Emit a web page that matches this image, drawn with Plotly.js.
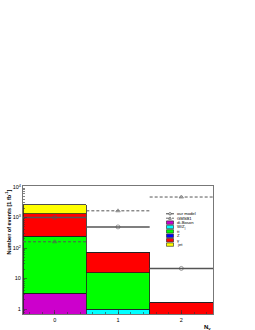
<!DOCTYPE html>
<html><head><meta charset="utf-8">
<script src="https://cdn.plot.ly/plotly-3.0.1.min.js"></script>
<style>html,body{margin:0;padding:0;background:#fff}#c{width:255px;height:330px}</style>
</head><body><div id="c"></div>
<script>
const bins = [0, 1, 2];
const tickLabels = ["0", "1", "2"];
const ourModel = [1000, 490, 21.5];
const gmsb1 = [160, 1650, 4670];
const diBoson = [3.3, 0, 0];
const wzj = [0, 1.0, 0];
const ttbar = [242, 14.3, 0];
const zjets = [2, 0, 0];
const gamma = [1100, 56, 1.6];
const jet = [1280, 0, 0];
const yTickVals = [1, 10, 100, 1000, 10000];
const yTickText = ["1", "10", "10<sup>2</sup>", "10<sup>3</sup>", "10<sup>4</sup>"];
const barNames = ["di-Boson", "W/Z<sub>j</sub>", "tt", "Z", "γ", "jet"];
const barColors = ["#cc00cc", "#00ffff", "#00ff00", "#0000ff", "#ff0000", "#ffff00"];
const barSeries = [diBoson, wzj, ttbar, zjets, gamma, jet];

function steps(vals) {
  const x = [], y = [], s = [];
  bins.forEach((b, i) => {
    x.push(b - 0.5, b, b + 0.5, null);
    y.push(vals[i], vals[i], vals[i], null);
    s.push(0, 4, 0, 0);
  });
  return {x, y, s};
}
const om = steps(ourModel), gm = steps(gmsb1);
const font = "Liberation Sans, Arial, sans-serif";
const data = [];
barSeries.forEach((v, i) => data.push({type: "bar", name: barNames[i], x: bins, y: v, width: 1,
  marker: {color: barColors[i], line: {color: "#222", width: 0.8}}}));
data.push({type: "scatter", mode: "lines+markers", name: "our model", x: om.x, y: om.y,
   line: {color: "#555", width: 1.5}, connectgaps: false,
   marker: {symbol: "circle-open", size: om.s, color: "#555", line: {width: 0.8}}});
data.push({type: "scatter", mode: "lines+markers", name: "GMSB1", x: gm.x, y: gm.y,
   line: {color: "#555", width: 1, dash: "3px,2px"}, connectgaps: false,
   marker: {symbol: "triangle-up-open", size: gm.s, color: "#555", line: {width: 0.8}}});

// manual legend (paper coordinates of the plot area)
const L = 23, R = 213, B = 314, T = 186;
const px = v => (v - L) / (R - L), py = v => (B - v) / (B - T);
const legNames = ["our model", "GMSB1"].concat(barNames);
const legY0 = 213.8, legDy = 4.4;
const shapes = [], annotations = [];
legNames.forEach((n, i) => {
  const y = legY0 + i * legDy;
  annotations.push({text: n, xref: "paper", yref: "paper", x: px(174.5), y: py(y),
    xanchor: "left", yanchor: "middle", showarrow: false, font: {size: 4.2, family: font}});
  if (i === 0) {
    shapes.push({type: "line", xref: "paper", yref: "paper", x0: px(166), x1: px(174), y0: py(y), y1: py(y), line: {color: "#444", width: 1}});
    shapes.push({type: "circle", xref: "paper", yref: "paper", x0: px(168.8), x1: px(171.2), y0: py(y - 1.2), y1: py(y + 1.2), fillcolor: "#fff", line: {color: "#444", width: 0.7}});
  } else if (i === 1) {
    shapes.push({type: "line", xref: "paper", yref: "paper", x0: px(166), x1: px(174), y0: py(y), y1: py(y), line: {color: "#444", width: 0.8, dash: "dot"}});
    shapes.push({type: "path", xref: "paper", yref: "paper",
      path: `M ${px(168.7)} ${py(y + 1.1)} L ${px(171.3)} ${py(y + 1.1)} L ${px(170)} ${py(y - 1.3)} Z`,
      fillcolor: "#fff", line: {color: "#444", width: 0.7}});
  } else {
    shapes.push({type: "rect", xref: "paper", yref: "paper", x0: px(166.5), x1: px(173.5), y0: py(y + 1.7), y1: py(y - 1.7),
      fillcolor: barColors[i - 2], line: {color: "#222", width: 0.6}});
  }
});
annotations.push({text: "<b>N<sub>γ</sub></b>", xref: "paper", yref: "paper", x: 1.0, y: -0.06,
    xanchor: "right", yanchor: "top", showarrow: false, font: {size: 6, family: font}});
annotations.push({text: "<b>Number of events [1 fb<sup>-1</sup>]</b>", xref: "paper", yref: "paper",
    x: px(8), y: py(188), xanchor: "center", yanchor: "top", textangle: -90, showarrow: false,
    font: {size: 5.5, family: font}});

const minorY = [];
for (let e = -1; e < 4; e++) for (let m = 2; m <= 9; m++) minorY.push(m * Math.pow(10, e));

const layout = {
  width: 255, height: 330,
  margin: {l: 23, r: 42, t: 186, b: 16},
  paper_bgcolor: "#fff", plot_bgcolor: "#fff",
  barmode: "stack", bargap: 0,
  font: {family: font, size: 5.5, color: "#000"},
  showlegend: false,
  shapes: shapes, annotations: annotations,
  xaxis: {range: [-0.5, 2.5], tickvals: bins, ticktext: tickLabels,
    ticks: "inside", ticklen: 4, tickcolor: "#333", tickwidth: 0.6, showgrid: false, zeroline: false,
    showline: true, linecolor: "#777", linewidth: 1, mirror: true,
    minor: {dtick: 0.2, ticks: "inside", ticklen: 2, tickcolor: "#333", tickwidth: 0.6},
    tickfont: {size: 5.5, family: font}},
  yaxis: {type: "log", range: [-0.16, 4.03], tickvals: yTickVals, ticktext: yTickText,
    ticks: "inside", ticklen: 4, tickcolor: "#333", tickwidth: 0.6, showgrid: false, zeroline: false,
    showline: true, linecolor: "#777", linewidth: 1, mirror: true,
    minor: {tickmode: "array", tickvals: minorY, ticks: "inside", ticklen: 2, tickcolor: "#333", tickwidth: 0.6, showgrid: false},
    tickfont: {size: 5.5, family: font}}
};
Plotly.newPlot("c", data, layout, {displayModeBar: false, staticPlot: true});
</script></body></html>
